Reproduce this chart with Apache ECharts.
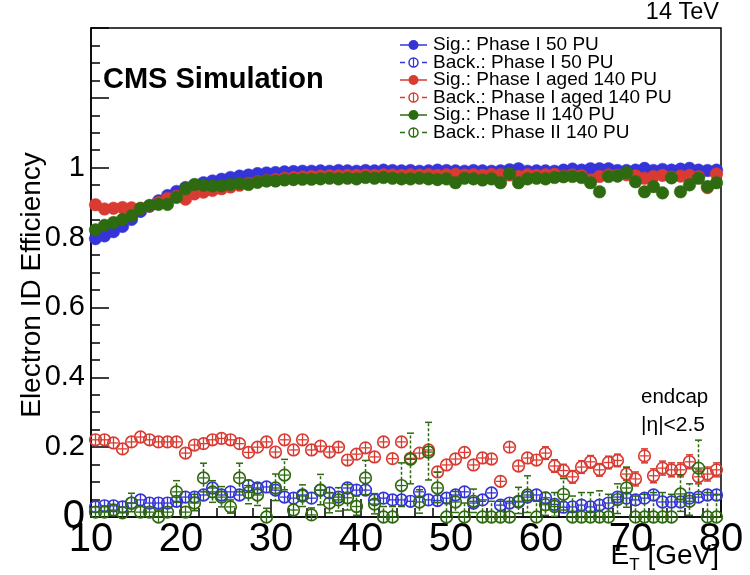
<!DOCTYPE html>
<html><head><meta charset="utf-8">
<script src="https://cdn.jsdelivr.net/npm/echarts/dist/echarts.min.js"></script>
<style>html,body{margin:0;padding:0;background:#fff}#c{width:750px;height:575px}</style>
</head><body><div id="c"></div><script>
const binCenters = [10.5,11.5,12.5,13.5,14.5,15.5,16.5,17.5,18.5,19.5,
 20.5,21.5,22.5,23.5,24.5,25.5,26.5,27.5,28.5,29.5,
 30.5,31.5,32.5,33.5,34.5,35.5,36.5,37.5,38.5,39.5,
 40.5,41.5,42.5,43.5,44.5,45.5,46.5,47.5,48.5,49.5,
 50.5,51.5,52.5,53.5,54.5,55.5,56.5,57.5,58.5,59.5,
 60.5,61.5,62.5,63.5,64.5,65.5,66.5,67.5,68.5,69.5,
 70.5,71.5,72.5,73.5,74.5,75.5,76.5,77.5,78.5,79.5];
const xTicks = [10,20,30,40,50,60,70,80];
const yTicks = [0,0.2,0.4,0.6,0.8,1];

const sigBlue = [0.797,0.805,0.817,0.832,0.852,0.875,0.890,0.905,0.920,0.932,
 0.943,0.950,0.957,0.962,0.967,0.972,0.976,0.979,0.983,0.985,
 0.986,0.988,0.989,0.990,0.990,0.991,0.990,0.992,0.991,0.990,
 0.992,0.991,0.993,0.992,0.991,0.992,0.990,0.991,0.993,0.992,
 0.991,0.990,0.992,0.991,0.990,0.991,0.994,0.997,0.990,0.991,
 0.991,0.990,0.993,0.996,0.993,0.997,0.997,0.997,0.992,0.992,
 0.993,0.998,0.992,0.995,0.993,0.996,0.998,0.993,0.992,0.993];
const sigBlueErr = [0.004,0.004,0.004,0.004,0.004,0.004,0.004,0.004,0.004,0.004,
 0.003,0.003,0.003,0.003,0.003,0.003,0.003,0.003,0.003,0.003,
 0.003,0.003,0.003,0.003,0.003,0.003,0.003,0.003,0.003,0.003,
 0.003,0.003,0.003,0.003,0.003,0.003,0.003,0.003,0.003,0.003,
 0.004,0.004,0.004,0.004,0.004,0.004,0.004,0.004,0.004,0.004,
 0.005,0.005,0.005,0.005,0.005,0.005,0.005,0.005,0.005,0.005,
 0.006,0.006,0.006,0.006,0.006,0.006,0.006,0.006,0.006,0.006];

const backBlue = [0.029,0.032,0.032,0.029,0.040,0.049,0.040,0.040,0.040,0.045,
 0.057,0.057,0.063,0.083,0.063,0.072,0.063,0.090,0.083,0.086,
 0.077,0.057,0.054,0.063,0.054,0.077,0.069,0.057,0.083,0.077,
 0.077,0.049,0.054,0.049,0.049,0.045,0.072,0.049,0.047,0.054,
 0.063,0.072,0.040,0.049,0.069,0.034,0.040,0.043,0.057,0.063,
 0.055,0.036,0.028,0.029,0.034,0.029,0.034,0.040,0.057,0.054,
 0.049,0.054,0.063,0.043,0.043,0.043,0.054,0.057,0.063,0.063];
const backBlueErr = [0.005,0.005,0.005,0.005,0.005,0.005,0.005,0.005,0.005,0.005,
 0.005,0.005,0.005,0.005,0.005,0.005,0.005,0.005,0.005,0.005,
 0.006,0.006,0.006,0.006,0.006,0.006,0.006,0.006,0.006,0.006,
 0.007,0.007,0.007,0.007,0.007,0.007,0.007,0.007,0.007,0.007,
 0.008,0.008,0.008,0.008,0.008,0.008,0.008,0.008,0.008,0.008,
 0.009,0.009,0.009,0.009,0.009,0.009,0.009,0.009,0.009,0.009,
 0.010,0.010,0.010,0.010,0.010,0.010,0.010,0.010,0.010,0.010];

const sigRed = [0.894,0.882,0.884,0.886,0.885,0.884,0.890,0.900,0.912,0.918,
 0.910,0.925,0.930,0.935,0.940,0.945,0.950,0.955,0.960,0.963,
 0.966,0.970,0.972,0.973,0.975,0.976,0.977,0.977,0.978,0.978,
 0.979,0.978,0.980,0.979,0.978,0.980,0.979,0.980,0.978,0.980,
 0.981,0.979,0.980,0.978,0.981,0.980,0.979,0.975,0.980,0.978,
 0.980,0.981,0.976,0.979,0.977,0.965,0.975,0.979,0.978,0.980,
 0.977,0.970,0.975,0.978,0.973,0.976,0.978,0.974,0.943,0.982];
const sigRedErr = [0.004,0.004,0.004,0.004,0.004,0.004,0.004,0.004,0.004,0.004,
 0.003,0.003,0.003,0.003,0.003,0.003,0.003,0.003,0.003,0.003,
 0.003,0.003,0.003,0.003,0.003,0.003,0.003,0.003,0.003,0.003,
 0.004,0.004,0.004,0.004,0.004,0.004,0.004,0.004,0.004,0.004,
 0.005,0.005,0.005,0.005,0.005,0.005,0.005,0.005,0.005,0.005,
 0.006,0.006,0.006,0.006,0.006,0.008,0.006,0.006,0.006,0.006,
 0.007,0.007,0.007,0.007,0.007,0.007,0.007,0.007,0.014,0.007];

const backRed = [0.221,0.221,0.212,0.195,0.215,0.229,0.221,0.215,0.215,0.215,
 0.183,0.206,0.210,0.221,0.225,0.221,0.210,0.185,0.200,0.215,
 0.186,0.221,0.192,0.221,0.192,0.203,0.186,0.200,0.163,0.180,
 0.198,0.172,0.215,0.167,0.215,0.168,0.183,0.192,0.129,0.149,
 0.166,0.185,0.149,0.169,0.166,0.102,0.200,0.146,0.169,0.163,
 0.183,0.146,0.133,0.115,0.143,0.158,0.135,0.156,0.162,0.123,
 0.109,0.175,0.118,0.140,0.135,0.135,0.158,0.115,0.123,0.135];
const backRedErr = [0.008,0.008,0.008,0.008,0.008,0.008,0.008,0.008,0.008,0.008,
 0.008,0.008,0.008,0.008,0.008,0.008,0.008,0.008,0.008,0.008,
 0.009,0.009,0.009,0.009,0.009,0.009,0.009,0.009,0.009,0.009,
 0.011,0.011,0.011,0.011,0.011,0.011,0.011,0.011,0.011,0.011,
 0.014,0.014,0.014,0.014,0.014,0.014,0.014,0.014,0.014,0.014,
 0.018,0.018,0.018,0.018,0.018,0.018,0.018,0.018,0.018,0.018,
 0.020,0.020,0.020,0.020,0.020,0.020,0.020,0.020,0.020,0.020];

const sigGreen = [0.822,0.835,0.843,0.852,0.862,0.883,0.892,0.895,0.895,0.915,
 0.940,0.952,0.950,0.948,0.948,0.952,0.955,0.952,0.958,0.962,
 0.962,0.965,0.966,0.967,0.967,0.968,0.970,0.968,0.970,0.968,
 0.972,0.970,0.972,0.970,0.968,0.968,0.970,0.968,0.966,0.968,
 0.957,0.970,0.968,0.965,0.968,0.957,0.983,0.957,0.968,0.970,
 0.968,0.972,0.974,0.975,0.972,0.957,0.931,0.975,0.976,0.986,
 0.960,0.931,0.946,0.928,0.971,0.931,0.951,0.970,0.946,0.957];
const sigGreenErr = [0.004,0.004,0.004,0.004,0.004,0.004,0.004,0.004,0.004,0.004,
 0.004,0.004,0.004,0.004,0.004,0.004,0.004,0.004,0.004,0.004,
 0.004,0.004,0.004,0.004,0.004,0.004,0.004,0.004,0.004,0.004,
 0.005,0.005,0.005,0.005,0.005,0.005,0.005,0.005,0.005,0.005,
 0.008,0.006,0.006,0.006,0.006,0.008,0.006,0.008,0.006,0.006,
 0.008,0.008,0.008,0.008,0.010,0.012,0.016,0.010,0.010,0.010,
 0.014,0.017,0.015,0.018,0.013,0.018,0.016,0.014,0.017,0.016];

const backGreen = [0.014,0.014,0.020,0.012,0.040,0.014,0.014,0.000,0.014,0.072,
 0.014,0.040,0.112,0.072,0.057,0.029,0.112,0.070,0.063,0.000,
 0.083,0.120,0.020,0.060,0.006,0.077,0.040,0.049,0.055,0.030,
 0.112,0.037,0.000,0.000,0.090,0.165,0.043,0.186,0.083,0.000,
 0.043,0.000,0.045,0.000,0.000,0.000,0.000,0.045,0.063,0.000,
 0.035,0.030,0.065,0.000,0.000,0.000,0.000,0.000,0.050,0.083,
 0.000,0.000,0.000,0.000,0.000,0.066,0.045,0.140,0.000,0.000];
const backGreenErrHi = [0.012,0.012,0.014,0.012,0.028,0.012,0.012,0.020,0.012,0.032,
 0.014,0.025,0.042,0.032,0.030,0.020,0.042,0.035,0.033,0.025,
 0.040,0.045,0.018,0.032,0.020,0.045,0.030,0.035,0.038,0.030,
 0.050,0.030,0.030,0.030,0.065,0.075,0.035,0.085,0.045,0.040,
 0.030,0.040,0.035,0.045,0.045,0.045,0.045,0.040,0.055,0.045,
 0.035,0.040,0.045,0.060,0.070,0.070,0.075,0.065,0.045,0.060,
 0.060,0.065,0.070,0.070,0.065,0.055,0.050,0.080,0.070,0.065];
const backGreenErrLo = [0.010,0.010,0.012,0.010,0.025,0.010,0.010,0.000,0.010,0.030,
 0.010,0.022,0.040,0.030,0.028,0.018,0.040,0.032,0.030,0.000,
 0.036,0.042,0.015,0.030,0.005,0.042,0.028,0.032,0.035,0.025,
 0.048,0.028,0.000,0.000,0.060,0.070,0.032,0.080,0.042,0.000,
 0.030,0.000,0.032,0.000,0.000,0.000,0.000,0.035,0.050,0.000,
 0.030,0.028,0.045,0.000,0.000,0.000,0.000,0.000,0.040,0.055,
 0.000,0.000,0.000,0.000,0.000,0.050,0.040,0.075,0.000,0.000];

const seriesNames = ['Sig.: Phase I 50 PU','Back.: Phase I 50 PU','Sig.: Phase I aged 140 PU',
 'Back.: Phase I aged 140 PU','Sig.: Phase II 140 PU','Back.: Phase II 140 PU'];

const BLUE = '#3434d8', RED = '#d93b32', GREEN = '#2e6a10';
const FONT = '"Liberation Sans", Arial, Helvetica, sans-serif';

function rows(vals, lo, hi) {
  return binCenters.map((x, i) => [x, vals[i], lo[i], hi[i]]);
}

function makeRender(color, filled, dashed) {
  return function (params, api) {
    const x = api.value(0), y = api.value(1), lo = api.value(2), hi = api.value(3);
    const c = api.coord([x, y]);
    const pHi = api.coord([x, y + hi]);
    const pLo = api.coord([x, y - lo]);
    const pL = api.coord([x - 0.5, y]);
    const pR = api.coord([x + 0.5, y]);
    const r = filled ? 6.3 : 5.8;
    const ls = { stroke: color, lineWidth: 1.5, fill: null };
    if (dashed) ls.lineDash = [3, 2];
    const cap = { stroke: color, lineWidth: 1.5 };
    const ch = [];
    if (pHi[1] < c[1] - r) {
      ch.push({ type: 'line', shape: { x1: c[0], y1: c[1] - r, x2: c[0], y2: pHi[1] }, style: ls });
      ch.push({ type: 'line', shape: { x1: c[0] - 3.5, y1: pHi[1], x2: c[0] + 3.5, y2: pHi[1] }, style: cap });
    }
    if (pLo[1] > c[1] + r) {
      ch.push({ type: 'line', shape: { x1: c[0], y1: c[1] + r, x2: c[0], y2: pLo[1] }, style: ls });
      ch.push({ type: 'line', shape: { x1: c[0] - 3.5, y1: pLo[1], x2: c[0] + 3.5, y2: pLo[1] }, style: cap });
    }
    if (filled) {
      ch.push({ type: 'circle', shape: { cx: c[0], cy: c[1], r: r }, style: { fill: color, stroke: color, lineWidth: 0.5 } });
    } else {
      const hx = Math.min(r, (pR[0] - pL[0]) / 2);
      ch.push({ type: 'line', shape: { x1: c[0] - hx, y1: c[1], x2: c[0] + hx, y2: c[1] }, style: { stroke: color, lineWidth: 1.3 } });
      ch.push({ type: 'line', shape: { x1: c[0], y1: c[1] - r, x2: c[0], y2: c[1] + r }, style: { stroke: color, lineWidth: 1.3 } });
      ch.push({ type: 'circle', shape: { cx: c[0], cy: c[1], r: r }, style: { fill: null, stroke: color, lineWidth: 1.7 } });
    }
    return { type: 'group', children: ch };
  };
}

function series(name, data, color, filled, dashed) {
  return { type: 'custom', name: name, data: data, renderItem: makeRender(color, filled, dashed),
    encode: { x: 0, y: 1 }, clip: false, silent: true };
}

const legendGraphics = [];
const legCol = [BLUE, BLUE, RED, RED, GREEN, GREEN];
const legY = [45, 62.5, 80, 97.5, 115, 132.5];
seriesNames.forEach((n, i) => {
  const filled = i % 2 === 0;
  const col = legCol[i];
  if (filled) {
    legendGraphics.push({ type: 'line', shape: { x1: 400, y1: legY[i], x2: 427, y2: legY[i] }, style: { stroke: col, lineWidth: 1.5 } });
    legendGraphics.push({ type: 'circle', shape: { cx: 413.5, cy: legY[i], r: 5 }, style: { fill: col } });
  } else {
    legendGraphics.push({ type: 'line', shape: { x1: 400, y1: legY[i], x2: 405, y2: legY[i] }, style: { stroke: col, lineWidth: 1.5 } });
    legendGraphics.push({ type: 'line', shape: { x1: 422, y1: legY[i], x2: 427, y2: legY[i] }, style: { stroke: col, lineWidth: 1.5 } });
    legendGraphics.push({ type: 'line', shape: { x1: 413.5, y1: legY[i] - 4.5, x2: 413.5, y2: legY[i] + 4.5 }, style: { stroke: col, lineWidth: 1.2 } });
    legendGraphics.push({ type: 'circle', shape: { cx: 413.5, cy: legY[i], r: 4.5 }, style: { fill: null, stroke: col, lineWidth: 1.5 } });
  }
  legendGraphics.push({ type: 'text', x: 433, y: legY[i], style: { text: n, fontSize: 19, fontFamily: FONT, fill: '#000', textVerticalAlign: 'middle', textAlign: 'left' } });
});

const chart = echarts.init(document.getElementById('c'), null, { renderer: 'canvas' });
chart.setOption({
  animation: false,
  backgroundColor: '#fff',
  grid: { left: 91, right: 29, top: 28, bottom: 58, show: true, borderColor: '#000', borderWidth: 1.5, backgroundColor: 'transparent' },
  xAxis: {
    type: 'value', min: xTicks[0], max: xTicks[xTicks.length - 1], interval: 10,
    axisLine: { show: true, onZero: false, lineStyle: { color: '#000', width: 1.5 } },
    axisTick: { show: true, inside: true, length: 18, lineStyle: { color: '#000', width: 1.5 } },
    minorTick: { show: true, splitNumber: 5, length: 9, lineStyle: { color: '#000', width: 1.5 } },
    splitLine: { show: false },
    axisLabel: { fontSize: 40, fontFamily: FONT, color: '#000', margin: 3,
      formatter: v => xTicks.indexOf(v) >= 0 ? String(v) : '' }
  },
  yAxis: {
    type: 'value', min: 0, max: 1.4, interval: 0.2,
    axisLine: { show: true, onZero: false, lineStyle: { color: '#000', width: 1.5 } },
    axisTick: { show: true, inside: true, length: 18, lineStyle: { color: '#000', width: 1.5 } },
    minorTick: { show: true, splitNumber: 4, length: 9, lineStyle: { color: '#000', width: 1.5 } },
    splitLine: { show: false },
    axisLabel: { fontSize: 29, fontFamily: FONT, color: '#000', margin: 6,
      rich: { z: { fontSize: 40, fontFamily: FONT, color: '#000' } },
      formatter: v => {
        const r = Math.round(v * 10) / 10;
        if (yTicks.indexOf(r) < 0) return '';
        if (r === 0) return '{z|0}';
        return String(r);
      } }
  },
  graphic: [
    { type: 'text', x: 32, y: 285, rotation: Math.PI / 2,
      style: { text: 'Electron ID Efficiency', fontSize: 28, fontFamily: FONT, fill: '#000', textAlign: 'center', textVerticalAlign: 'middle' } },
    { type: 'text', x: 103, y: 80, style: { text: 'CMS Simulation', fontSize: 29, fontWeight: 'bold', fontFamily: FONT, fill: '#000', textAlign: 'left', textVerticalAlign: 'middle' } },
    { type: 'text', x: 719, y: 13, style: { text: '14 TeV', fontSize: 23.5, fontFamily: FONT, fill: '#000', textAlign: 'right', textVerticalAlign: 'middle' } },
    { type: 'text', x: 641, y: 397, style: { text: 'endcap', fontSize: 20.5, fontFamily: FONT, fill: '#000', textAlign: 'left', textVerticalAlign: 'middle' } },
    { type: 'text', x: 641, y: 425, style: { text: '|η|<2.5', fontSize: 21, fontFamily: FONT, fill: '#000', textAlign: 'left', textVerticalAlign: 'middle' } },
    { type: 'text', x: 719, y: 556, style: {
      text: '{e|E}{s|T}{e| [GeV]}', textAlign: 'right', textVerticalAlign: 'middle',
      rich: { e: { fontSize: 28, fontFamily: FONT, fill: '#000', lineHeight: 36, verticalAlign: 'middle' },
              s: { fontSize: 17, fontFamily: FONT, fill: '#000', lineHeight: 36, verticalAlign: 'bottom' } } } }
  ].concat(legendGraphics),
  series: [
    series(seriesNames[0], rows(sigBlue, sigBlueErr, sigBlueErr), BLUE, true, false),
    series(seriesNames[1], rows(backBlue, backBlueErr, backBlueErr), BLUE, false, true),
    series(seriesNames[2], rows(sigRed, sigRedErr, sigRedErr), RED, true, false),
    series(seriesNames[3], rows(backRed, backRedErr, backRedErr), RED, false, true),
    series(seriesNames[4], rows(sigGreen, sigGreenErr, sigGreenErr), GREEN, true, false),
    series(seriesNames[5], rows(backGreen, backGreenErrLo, backGreenErrHi), GREEN, false, true)
  ]
});
</script></body></html>
